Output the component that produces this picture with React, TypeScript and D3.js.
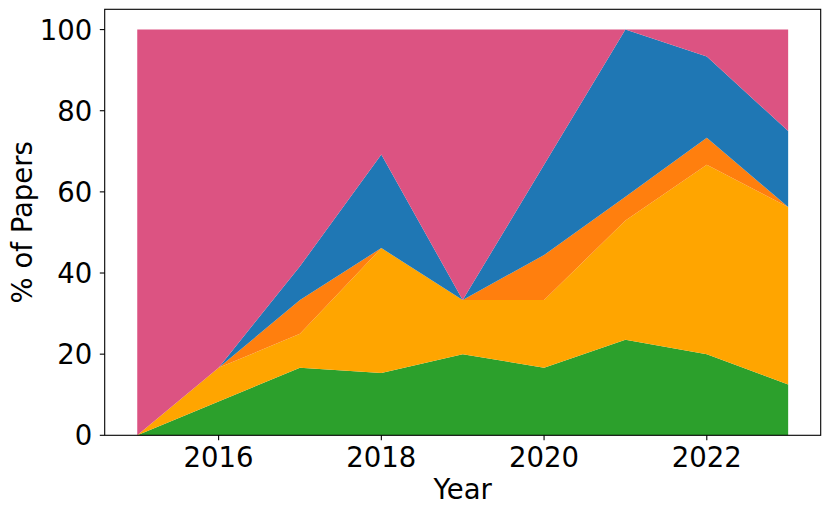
import React from "react";
import * as d3 from "d3";

const years = [2015, 2016, 2017, 2018, 2019, 2020, 2021, 2022, 2023];
const seriesKeys = ["green", "orange", "darkorange", "blue", "pink"];
const greenVals = [0, 8.33, 16.67, 15.38, 20, 16.67, 23.53, 20, 12.5];
const orangeVals = [0, 8.33, 8.33, 30.77, 13.33, 16.67, 29.41, 46.67, 43.75];
const darkOrangeVals = [0, 0, 8.33, 0, 0, 11.11, 5.88, 6.67, 0];
const blueVals = [0, 0, 8.33, 23.08, 0, 22.22, 41.18, 20, 18.75];
const pinkVals = [100, 83.34, 58.34, 30.77, 66.67, 33.33, 0, 6.66, 25];
const colors = ["#2ca02c", "#ffa500", "#ff7f0e", "#1f77b4", "#dc5382"];
const xTicks = [2016, 2018, 2020, 2022];
const yTicks = [0, 20, 40, 60, 80, 100];

const W = 830;
const H = 514;
const M = { left: 104.7, right: 820.7, top: 9.3, bottom: 435.3 };
const FONT = "DejaVu Sans, sans-serif";
const FS = 27.5;

export default function App() {
  const rows = years.map((y, i) => ({
    year: y,
    green: greenVals[i],
    orange: orangeVals[i],
    darkorange: darkOrangeVals[i],
    blue: blueVals[i],
    pink: pinkVals[i],
  }));
  const stacked = d3.stack<any>().keys(seriesKeys)(rows);
  const x = d3.scaleLinear().domain([2014.6, 2023.4]).range([M.left, M.right]);
  const y = d3.scaleLinear().domain([0, 105]).range([M.bottom, M.top]);
  const area = d3
    .area<any>()
    .x((d) => x(d.data.year))
    .y0((d) => y(d[0]))
    .y1((d) => y(d[1]));

  return (
    <svg
      width={W}
      height={H}
      style={{ position: "absolute", left: 0, top: 0 }}
      fontFamily={FONT}
    >
      <rect x={0} y={0} width={W} height={H} fill="white" />
      {stacked.map((s, i) => (
        <path key={s.key} d={area(s) || ""} fill={colors[i]} stroke="none" />
      ))}
      <rect
        x={M.left}
        y={M.top}
        width={M.right - M.left}
        height={M.bottom - M.top}
        fill="none"
        stroke="black"
        strokeWidth={1.1}
      />
      {xTicks.map((t) => (
        <g key={t}>
          <line x1={x(t)} x2={x(t)} y1={M.bottom} y2={M.bottom + 4.9} stroke="black" strokeWidth={1.1} />
          <text x={x(t)} y={466.5} fontSize={FS} textAnchor="middle" fill="black">
            {t}
          </text>
        </g>
      ))}
      {yTicks.map((t) => (
        <g key={t}>
          <line x1={M.left - 4.9} x2={M.left} y1={y(t)} y2={y(t)} stroke="black" strokeWidth={1.1} />
          <text
            x={M.left - 12.5}
            y={y(t)}
            fontSize={FS}
            textAnchor="end"
            dominantBaseline="central"
            fill="black"
          >
            {t}
          </text>
        </g>
      ))}
      <text x={(M.left + M.right) / 2} y={498.5} fontSize={FS} textAnchor="middle" fill="black">
        Year
      </text>
      <text
        transform={`translate(${21.5},${(M.top + M.bottom) / 2}) rotate(-90)`}
        fontSize={FS}
        textAnchor="middle"
        dominantBaseline="central"
        fill="black"
      >
        % of Papers
      </text>
    </svg>
  );
}
